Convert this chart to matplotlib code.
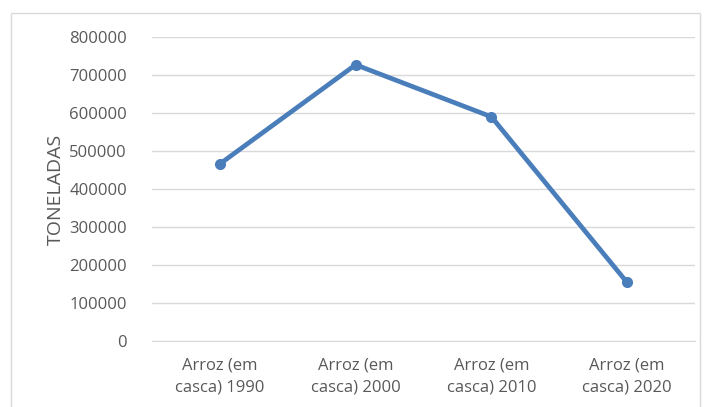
import matplotlib.pyplot as plt
from matplotlib.patches import Rectangle

# Data
categories = ['Arroz (em\ncasca) 1990', 'Arroz (em\ncasca) 2000',
              'Arroz (em\ncasca) 2010', 'Arroz (em\ncasca) 2020']
toneladas = [466000, 727000, 590000, 154000]
yticks = [0, 100000, 200000, 300000, 400000, 500000, 600000, 700000, 800000]

plt.rcParams['font.family'] = ['Open Sans', 'DejaVu Sans']

fig = plt.figure(figsize=(7.07, 4.07), dpi=100)
W, H = 707, 407
ax = fig.add_axes([152 / W, 1 - 341 / H, (695 - 152) / W, (341 - 37) / H])

# outer chart border
fig.patches.append(Rectangle((11 / W, -0.05), (700 - 11) / W, 1 - 13 / H + 0.05,
                             transform=fig.transFigure, fill=False,
                             edgecolor='#d9d9d9', linewidth=1))

x = range(len(categories))
ax.plot(x, toneladas, color='#4a7ebb', linewidth=3.4, marker='o',
        markersize=7, solid_capstyle='round', solid_joinstyle='round', zorder=3)

ax.set_xlim(-0.5, len(categories) - 0.5)
ax.set_ylim(0, 800000)
ax.set_yticks(yticks)
ax.set_yticklabels([str(v) for v in yticks])
ax.set_xticks(list(x))
ax.set_xticklabels(categories, linespacing=1.45)

ax.grid(axis='y', color='#d9d9d9', linewidth=1)
ax.set_axisbelow(True)
for s in ['top', 'right', 'left']:
    ax.spines[s].set_visible(False)
ax.spines['bottom'].set_color('#d9d9d9')
ax.tick_params(axis='both', length=0, colors='#595959', labelsize=12)
ax.tick_params(axis='y', pad=18)
ax.tick_params(axis='x', pad=12)

ax.set_ylabel('TONELADAS', color='#595959', fontsize=14, labelpad=3)

fig.savefig('out.png', dpi=100)
